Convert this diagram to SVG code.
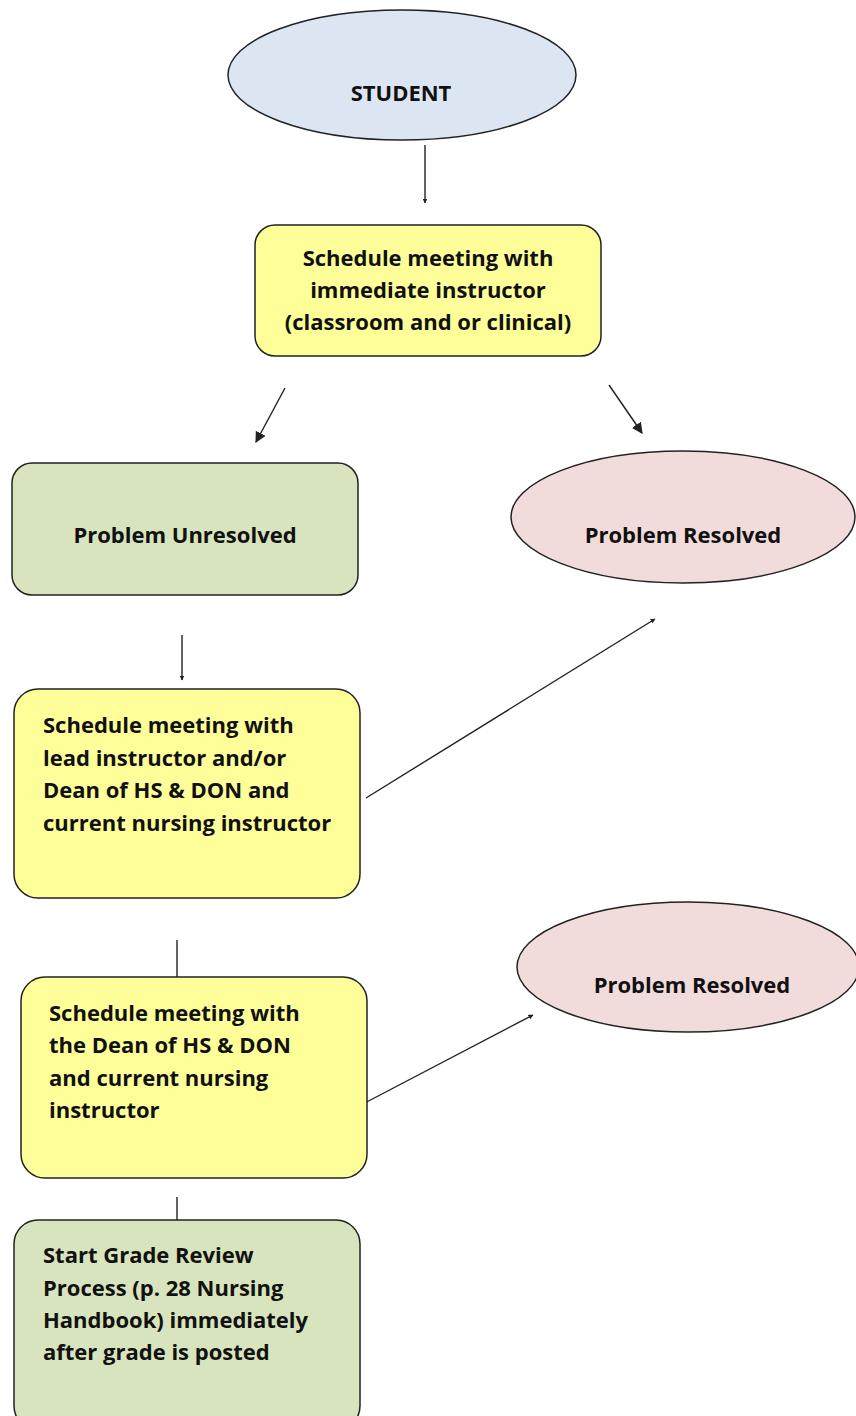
<svg xmlns="http://www.w3.org/2000/svg" width="856" height="1416" viewBox="0 0 856 1416">
<defs>
<style>
.t{font-family:"Open Sans",Lato,"Liberation Sans",sans-serif;font-weight:bold;font-size:22px;fill:#111}
.c{text-anchor:middle}
.n{stroke:#222;stroke-width:1.5}
.y{fill:#ffff99}
.g{fill:#d7e4bd}
.p{fill:#f2dcdb}
.b{fill:#dce6f2}
.e{stroke:#222;stroke-width:1.4;fill:none}
</style>
<marker id="ah" viewBox="0 0 10 10" refX="9" refY="5" markerWidth="5" markerHeight="5" orient="auto" markerUnits="userSpaceOnUse">
<path d="M0,0 L10,5 L0,10 z" fill="#222"/>
</marker>
<marker id="ah2" viewBox="0 0 10 10" refX="9" refY="5" markerWidth="11" markerHeight="11" orient="auto" markerUnits="userSpaceOnUse">
<path d="M0,0 L10,5 L0,10 z" fill="#222"/>
</marker>
</defs>
<rect width="856" height="1416" fill="#fff"/>
<g id="connectors">
<line class="e" x1="425" y1="145" x2="425" y2="203" marker-end="url(#ah)"/>
<line class="e" x1="285" y1="388" x2="256" y2="442" marker-end="url(#ah2)"/>
<line class="e" x1="609" y1="385" x2="642" y2="433" marker-end="url(#ah2)"/>
<line class="e" x1="182" y1="635" x2="182" y2="680" marker-end="url(#ah)"/>
<line class="e" x1="366" y1="798" x2="655" y2="619" marker-end="url(#ah)"/>
<line class="e" x1="177" y1="940" x2="177" y2="977"/>
<line class="e" x1="359" y1="1106" x2="533" y2="1015" marker-end="url(#ah)"/>
<line class="e" x1="177" y1="1197" x2="177" y2="1220"/>
</g>
<g id="student">
<ellipse class="n b" cx="402" cy="75" rx="174" ry="65"/>
<text class="t c" x="401" y="101">STUDENT</text>
</g>
<g id="meet-instructor">
<rect class="n y" x="255" y="225" width="346" height="131" rx="20"/>
<text class="t c" x="428" y="266">Schedule meeting with</text>
<text class="t c" x="428" y="298">immediate instructor</text>
<text class="t c" x="428" y="330">(classroom and or clinical)</text>
</g>
<g id="unresolved">
<rect class="n g" x="12" y="463" width="346" height="132" rx="20"/>
<text class="t c" x="185" y="543">Problem Unresolved</text>
</g>
<g id="resolved-1">
<ellipse class="n p" cx="683" cy="517" rx="172" ry="66"/>
<text class="t c" x="683" y="543">Problem Resolved</text>
</g>
<g id="meet-lead">
<rect class="n y" x="14" y="689" width="346" height="209" rx="24"/>
<text class="t" x="43" y="733">Schedule meeting with</text>
<text class="t" x="43" y="766">lead instructor and/or</text>
<text class="t" x="43" y="798">Dean of HS &amp; DON and</text>
<text class="t" x="43" y="831">current nursing instructor</text>
</g>
<g id="meet-dean">
<rect class="n y" x="21" y="977" width="346" height="201" rx="24"/>
<text class="t" x="49" y="1021">Schedule meeting with</text>
<text class="t" x="49" y="1053">the Dean of HS &amp; DON</text>
<text class="t" x="49" y="1086">and current nursing</text>
<text class="t" x="49" y="1118">instructor</text>
</g>
<g id="resolved-2">
<ellipse class="n p" cx="688" cy="967" rx="171" ry="65"/>
<text class="t c" x="692" y="993">Problem Resolved</text>
</g>
<g id="grade-review">
<rect class="n g" x="14" y="1220" width="346" height="210" rx="24"/>
<text class="t" x="43" y="1263">Start Grade Review</text>
<text class="t" x="43" y="1296">Process (p. 28 Nursing</text>
<text class="t" x="43" y="1328">Handbook) immediately</text>
<text class="t" x="43" y="1360">after grade is posted</text>
</g>
</svg>
